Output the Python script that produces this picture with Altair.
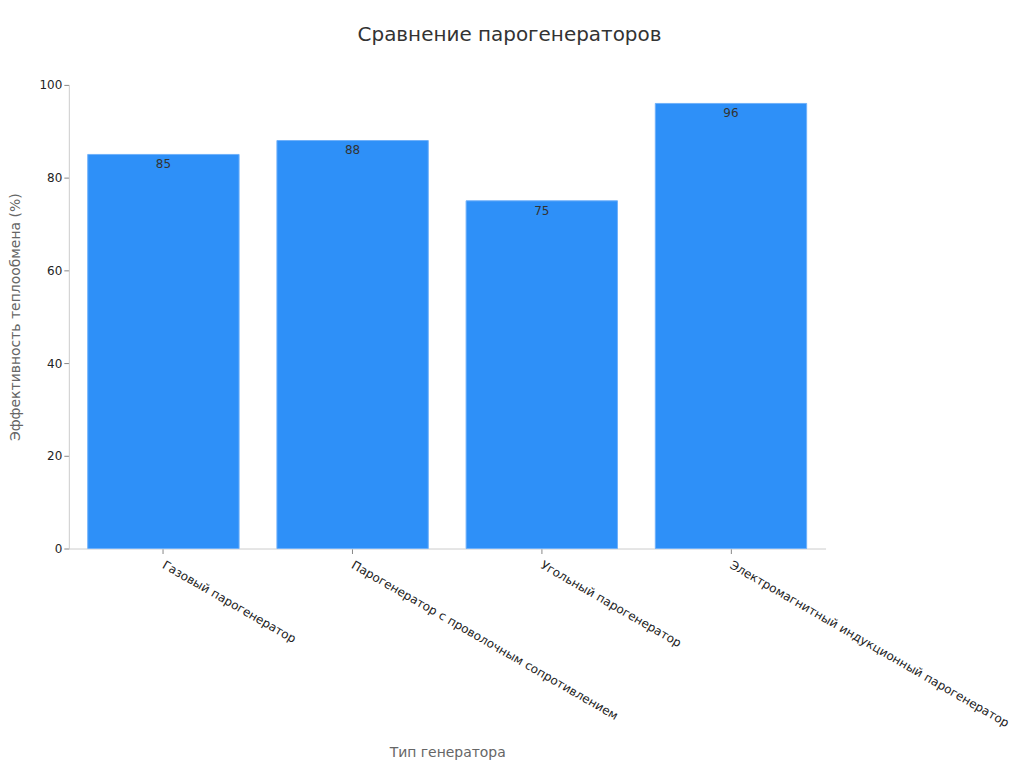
import altair as alt
import pandas as pd

categories = [
    "Газовый парогенератор",
    "Парогенератор с проволочным сопротивлением",
    "Угольный парогенератор",
    "Электромагнитный индукционный парогенератор",
]
values = [85, 88, 75, 96]

df = pd.DataFrame({"type": categories, "eff": values})

base = alt.Chart(df).encode(
    x=alt.X("type:N", sort=categories, title="Тип генератора",
            scale=alt.Scale(paddingInner=0.2, paddingOuter=0.1),
            axis=alt.Axis(labelAngle=30, labelAlign="left", labelBaseline="middle",
                          labelFontSize=12, labelColor="#222", titleColor="#666",
                          titleFontSize=14, titleFontWeight="normal", titlePadding=17,
                          labelPadding=10,
                          domainColor="#ccc", tickColor="#888", labelLimit=400)),
    y=alt.Y("eff:Q", title="Эффективность теплообмена (%)",
            scale=alt.Scale(domain=[0, 100]),
            axis=alt.Axis(values=[0, 20, 40, 60, 80, 100], grid=False, labelFontSize=12,
                          labelColor="#222", titleColor="#666", titleFontSize=14,
                          titleFontWeight="normal", domainColor="#ccc", tickColor="#888",
                          titlePadding=17)),
)

bars = base.mark_bar(color="#2E90F8", stroke="#6FB1FA", strokeWidth=1)
text = base.mark_text(dy=10, fontSize=12, color="#333", font="DejaVu Sans").encode(
    text="eff:Q")

chart = (bars + text).properties(
    width=759, height=465,
    padding={"top": 16, "left": 0, "right": 5, "bottom": 5},
    title=alt.TitleParams("Сравнение парогенераторов", fontSize=20, fontWeight="normal",
                          color="#333", offset=34, frame="bounds", anchor="middle"),
).configure(font="DejaVu Sans").configure_view(stroke=None)

chart.save("out.html", embed_options={"renderer": "svg", "actions": False})
